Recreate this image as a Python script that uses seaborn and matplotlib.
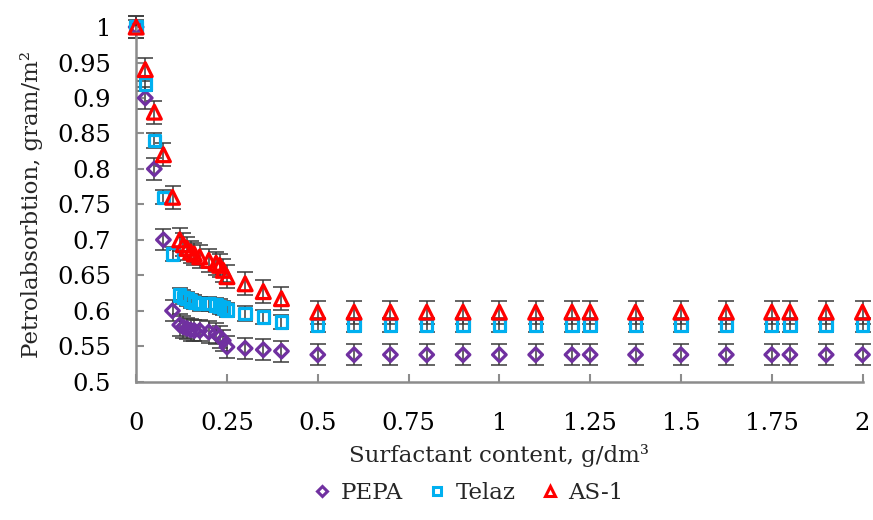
import numpy as np
import pandas as pd
import matplotlib
matplotlib.use("Agg")
import matplotlib.pyplot as plt
from matplotlib.lines import Line2D
import seaborn as sns

# ---- data ----
x_common = [0, 0.025, 0.05, 0.075, 0.1, 0.12, 0.13, 0.14, 0.15, 0.16, 0.175, 0.2,
            0.22, 0.23, 0.24, 0.25, 0.3, 0.35, 0.4, 0.5, 0.6, 0.7, 0.8, 0.9, 1.0,
            1.1, 1.2, 1.25, 1.375, 1.5, 1.625, 1.75, 1.8, 1.9, 2.0]

pepa = [1.0, 0.90, 0.80, 0.70, 0.60, 0.580, 0.577, 0.575, 0.573, 0.572, 0.572, 0.570,
        0.568, 0.563, 0.558, 0.549, 0.547, 0.545, 0.543, 0.538, 0.538, 0.538, 0.538,
        0.538, 0.538, 0.538, 0.538, 0.538, 0.538, 0.538, 0.538, 0.538, 0.538, 0.538, 0.538]
telaz = [1.0, 0.92, 0.84, 0.76, 0.68, 0.622, 0.619, 0.617, 0.614, 0.612, 0.610, 0.610,
         0.608, 0.606, 0.604, 0.601, 0.596, 0.591, 0.584, 0.580, 0.580, 0.580, 0.580,
         0.580, 0.580, 0.580, 0.580, 0.580, 0.580, 0.580, 0.580, 0.580, 0.580, 0.580, 0.580]
as1 = [1.0, 0.94, 0.88, 0.82, 0.76, 0.700, 0.693, 0.688, 0.683, 0.680, 0.676, 0.671,
       0.667, 0.664, 0.657, 0.648, 0.638, 0.627, 0.617, 0.598, 0.598, 0.598, 0.598,
       0.598, 0.598, 0.598, 0.598, 0.598, 0.598, 0.598, 0.598, 0.598, 0.598, 0.598, 0.598]

err_pepa = 0.015
err_telaz = 0.01
err_as1 = 0.016

series_names = ["PEPA", "Telaz", "AS-1"]
series_values = [pepa, telaz, as1]
series_err = [err_pepa, err_telaz, err_as1]
colors = ["#7030A0", "#00B0F0", "#FF0000"]
markers = ["D", "s", "^"]
sizes = [48, 68, 100]

x_ticks = [0, 0.25, 0.5, 0.75, 1, 1.25, 1.5, 1.75, 2]
x_ticklabels = ["0", "0.25", "0.5", "0.75", "1", "1.25", "1.5", "1.75", "2"]
y_ticks = [0.5, 0.55, 0.6, 0.65, 0.7, 0.75, 0.8, 0.85, 0.9, 0.95, 1.0]
y_ticklabels = ["0.5", "0.55", "0.6", "0.65", "0.7", "0.75", "0.8", "0.85", "0.9", "0.95", "1"]

# ---- plot ----
sns.set_theme(style="white")
plt.rcParams["font.family"] = ["DejaVu Serif"]

fig = plt.figure(figsize=(8.73, 5.2), dpi=100)
ax = fig.add_axes([0.156, 0.266, 0.832, 0.682])

for name, vals, err, col, mk, sz in zip(series_names, series_values, series_err,
                                        colors, markers, sizes):
    df = pd.DataFrame({"x": x_common, "y": vals})
    ax.errorbar(df["x"], df["y"], yerr=err, fmt="none", ecolor="#3a3a3a",
                elinewidth=1.1, capsize=5.5, capthick=1.1, zorder=2, clip_on=False)
    sns.scatterplot(data=df, x="x", y="y", ax=ax, marker=mk, s=sz, zorder=3)
    coll = ax.collections[-1]
    coll.set_facecolor("none")
    coll.set_edgecolor(col)
    coll.set_linewidth(2.3)
    coll.set_clip_on(False)

ax.set_xlim(0, 2)
ax.set_ylim(0.5, 1.0)
ax.set_xticks(x_ticks)
ax.set_xticklabels(x_ticklabels)
ax.set_yticks(y_ticks)
ax.set_yticklabels(y_ticklabels)

for s in ["top", "right"]:
    ax.spines[s].set_visible(False)
for s in ["left", "bottom"]:
    ax.spines[s].set_color("#8c8c8c")
    ax.spines[s].set_linewidth(1.8)

ax.tick_params(axis="both", direction="in", length=6, width=1.5, color="#8c8c8c",
               labelsize=17.5, labelcolor="black")
ax.tick_params(axis="y", pad=18)
ax.tick_params(axis="x", pad=22)
ax.tick_params(left=True, bottom=True)

ax.set_xlabel("Surfactant content, g/dm³", fontsize=16.5, labelpad=6)
ax.set_ylabel("Petrolabsorbtion, gram/m²", fontsize=16.5, labelpad=10)

handles = [Line2D([0], [0], marker=mk, linestyle="none", markersize=ms,
                  markerfacecolor="none", markeredgecolor=col, markeredgewidth=2.2)
           for mk, col, ms in zip(markers, colors, [5, 6, 7])]
fig.legend(handles, series_names, loc="center", bbox_to_anchor=(0.535, 0.052),
           ncol=3, frameon=False, fontsize=16.5, handletextpad=0.3,
           columnspacing=1.0, handlelength=1.0)

fig.savefig("out.png", dpi=100)
